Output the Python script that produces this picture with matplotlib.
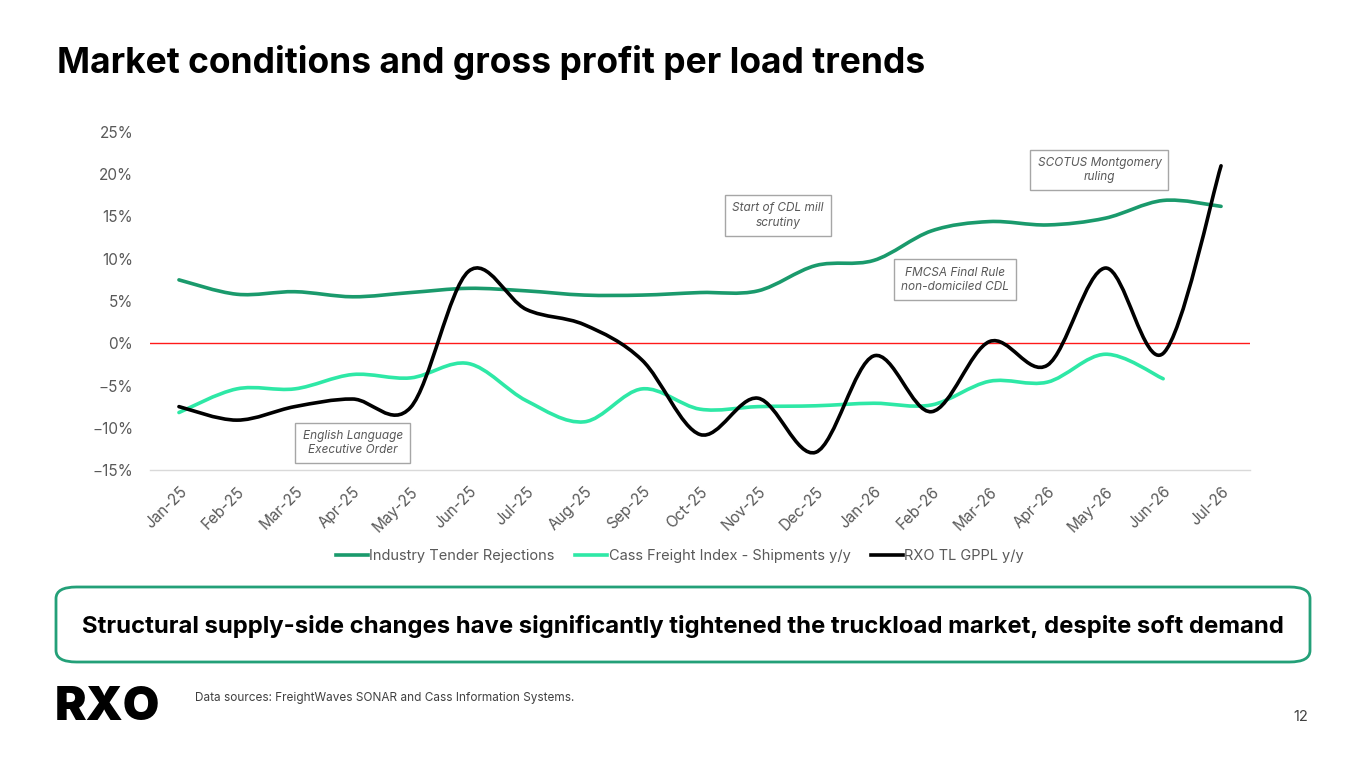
import matplotlib
matplotlib.use("Agg")
from matplotlib import pyplot as plt
from matplotlib.path import Path
from matplotlib.patches import PathPatch, FancyBboxPatch
from matplotlib.lines import Line2D
from matplotlib.ticker import FuncFormatter

months = ["Jan-25", "Feb-25", "Mar-25", "Apr-25", "May-25", "Jun-25", "Jul-25",
          "Aug-25", "Sep-25", "Oct-25", "Nov-25", "Dec-25", "Jan-26", "Feb-26",
          "Mar-26", "Apr-26", "May-26", "Jun-26", "Jul-26"]
tender_rejections = [7.5, 5.8, 6.1, 5.5, 6.0, 6.5, 6.2, 5.7, 5.7, 6.0, 6.2, 9.2,
                     9.8, 13.3, 14.4, 14.0, 14.8, 16.9, 16.2]
cass_shipments = [-8.2, -5.4, -5.4, -3.7, -4.1, -2.4, -6.8, -9.3, -5.4, -7.8,
                  -7.5, -7.4, -7.1, -7.3, -4.5, -4.6, -1.3, -4.2]
rxo_gppl = [-7.5, -9.1, -7.5, -6.6, -7.6, 8.5, 4.0, 2.2, -2.0, -10.8, -6.5,
            -12.9, -1.5, -8.1, 0.2, -2.6, 8.9, -1.2, 21.0]

series_names = ["Industry Tender Rejections", "Cass Freight Index - Shipments y/y",
                "RXO TL GPPL y/y"]
colors = ["#1a9a6c", "#2ee8a6", "#000000"]

notes = ["English Language\nExecutive Order", "Start of CDL mill\nscrutiny",
         "FMCSA Final Rule\nnon-domiciled CDL", "SCOTUS Montgomery\nruling"]
note_x = [3.0, 10.35, 13.4, 15.9]
note_y = [-11.8, 15.1, 7.5, 20.5]

FONT = "Inter"


def smooth_path(xs, ys):
    # excel-style smoothed line as cubic bezier segments
    pts = list(zip(xs, ys))
    verts = [pts[0]]
    codes = [Path.MOVETO]
    n = len(pts)
    for i in range(n - 1):
        p0 = pts[i - 1] if i > 0 else pts[i]
        p1 = pts[i]
        p2 = pts[i + 1]
        p3 = pts[i + 2] if i + 2 < n else pts[i + 1]
        c1 = (p1[0] + (p2[0] - p0[0]) / 6, p1[1] + (p2[1] - p0[1]) / 6)
        c2 = (p2[0] - (p3[0] - p1[0]) / 6, p2[1] - (p3[1] - p1[1]) / 6)
        verts += [c1, c2, p2]
        codes += [Path.CURVE4] * 3
    return Path(verts, codes)


fig = plt.figure(figsize=(13.65, 7.68), dpi=100)
fig.patch.set_facecolor("white")

fig.text(57 / 1365, 1 - 73 / 768, "Market conditions and gross profit per load trends",
         fontsize=25.5, fontweight="bold", family=FONT, color="#000000", va="baseline")

ax = fig.add_axes([150 / 1365, 1 - 470 / 768, 1100 / 1365, 338 / 768])
ax.set_xlim(-0.5, len(months) - 0.5)
ax.set_ylim(-15, 25)

for vals, col in zip([tender_rejections, cass_shipments, rxo_gppl], colors):
    xs = list(range(len(vals)))
    ax.add_patch(PathPatch(smooth_path(xs, vals), facecolor="none", edgecolor=col,
                           lw=2.6, capstyle="round", joinstyle="round", zorder=3))

ax.axhline(0, color="#ff1a1a", lw=1.0, zorder=2)

for s in ["top", "right", "left"]:
    ax.spines[s].set_visible(False)
ax.spines["bottom"].set_color("#d9d9d9")
ax.spines["bottom"].set_linewidth(1)

ax.set_yticks(range(-15, 30, 5))
ax.yaxis.set_major_formatter(FuncFormatter(lambda v, p: f"{v:.0f}%".replace("-", "\u2212")))
ax.set_xticks(range(len(months)))
ax.set_xticklabels(months, rotation=45, ha="right", rotation_mode="anchor")
ax.tick_params(axis="both", length=0, labelsize=11, labelcolor="#595959")
ax.tick_params(axis="y", pad=12)
ax.tick_params(axis="x", pad=10)
for lab in ax.get_xticklabels() + ax.get_yticklabels():
    lab.set_family(FONT)

for txt, x, y in zip(notes, note_x, note_y):
    ax.text(x, y, txt, ha="center", va="center", fontsize=8.5, style="italic",
            family=FONT, color="#595959", linespacing=1.3, zorder=4,
            bbox=dict(boxstyle="square,pad=0.6", fc="white", ec="#a6a6a6", lw=1))

handles = [Line2D([0], [0], color=c, lw=2.6) for c in colors]
fig.legend(handles, series_names, loc="center", bbox_to_anchor=(680 / 1365, 1 - 556 / 768),
           ncol=3, frameon=False, handlelength=2.2, handletextpad=0.1, columnspacing=1.4,
           prop={"family": FONT, "size": 10.5}, labelcolor="#595959")

box = FancyBboxPatch((56 / 1365, 1 - 662 / 768), 1254 / 1365, 75 / 768,
                     boxstyle="round,pad=0,rounding_size=0.015", transform=fig.transFigure,
                     fc="white", ec="#23a078", lw=2)
fig.patches.append(box)
fig.text(683 / 1365, 1 - 626 / 768,
         "Structural supply-side changes have significantly tightened the truckload market, despite soft demand",
         ha="center", va="center", fontsize=17.2, fontweight="bold", family=FONT, color="#000000")

fig.text(55 / 1365, 1 - 720 / 768, "RXO", fontsize=34, fontweight="black", family=FONT,
         color="#000000", va="baseline")
fig.text(195 / 1365, 1 - 698 / 768, "Data sources: FreightWaves SONAR and Cass Information Systems.",
         fontsize=8.5, family=FONT, color="#404040", va="center")
fig.text(1308 / 1365, 1 - 717 / 768, "12", fontsize=10.5, family=FONT, color="#404040",
         ha="right", va="center")

fig.savefig("out.png", dpi=100, facecolor="white")
